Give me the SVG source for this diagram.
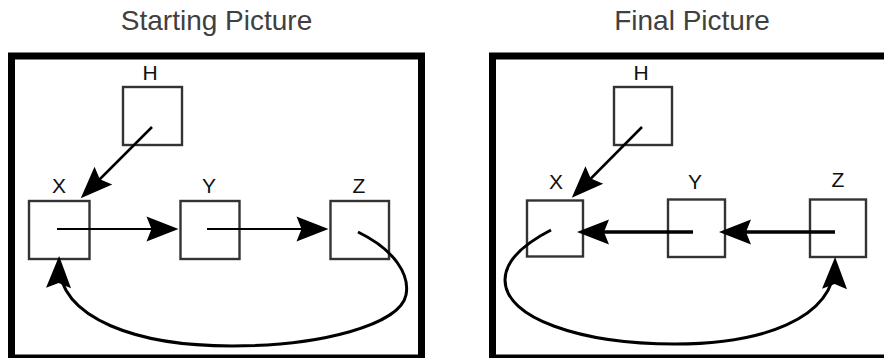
<svg xmlns="http://www.w3.org/2000/svg" width="884" height="358" viewBox="0 0 884 358">
  <style>
    .title { font-family: "Liberation Sans", Arial, sans-serif; font-size: 28px; fill: #404040; text-anchor: middle; }
    .label { font-family: "Liberation Sans", Arial, sans-serif; font-size: 21px; fill: #111; text-anchor: middle; }
    .frame { fill: none; stroke: #000; stroke-width: 7; }
    .box { fill: #fff; stroke: #333; stroke-width: 2.4; }
    .link { fill: none; stroke: #000; marker-end: url(#head); }
  </style>
  <defs>
    <marker id="head" markerUnits="userSpaceOnUse" markerWidth="40" markerHeight="30" refX="0" refY="0" orient="auto" overflow="visible">
      <path d="M6,0 L-26,-12.5 L-21,0 L-26,12.5 Z" fill="#000"/>
    </marker>
  </defs>
  <rect width="884" height="358" fill="#fff"/>

  <!-- Left panel: starting state -->
  <g id="start-panel">
    <text class="title" x="216.5" y="30">Starting Picture</text>
    <rect class="frame" x="11.5" y="56" width="410" height="302"/>
  </g>
  <g id="start-H">
    <rect class="box" x="123" y="87" width="59" height="58"/>
    <text class="label" x="150" y="80">H</text>
  </g>
  <g id="start-X">
    <rect class="box" x="29" y="201" width="60.5" height="58"/>
    <text class="label" x="59" y="193">X</text>
  </g>
  <g id="start-Y">
    <rect class="box" x="180.5" y="201" width="59" height="58"/>
    <text class="label" x="209" y="193">Y</text>
  </g>
  <g id="start-Z">
    <rect class="box" x="330.5" y="201" width="58.5" height="58"/>
    <text class="label" x="359" y="193">Z</text>
  </g>
  <g id="start-links">
    <path class="link" stroke-width="2.5" d="M152,127 L85,194"/>
    <path class="link" stroke-width="2" d="M57,229 L172.5,229"/>
    <path class="link" stroke-width="2" d="M207,229 L322.5,229"/>
    <path class="link" stroke-width="3" d="M358,232 C395,250 410,275 406,295 C400,325 320,346 232,346 C140,346 58,320 59,262"/>
  </g>

  <!-- Right panel: final state -->
  <g id="final-panel">
    <text class="title" x="692" y="30">Final Picture</text>
    <rect class="frame" x="492.5" y="56" width="400" height="302"/>
  </g>
  <g id="final-H">
    <rect class="box" x="614" y="87" width="58" height="58"/>
    <text class="label" x="641" y="80">H</text>
  </g>
  <g id="final-X">
    <rect class="box" x="527" y="200.5" width="56" height="56"/>
    <text class="label" x="556" y="189">X</text>
  </g>
  <g id="final-Y">
    <rect class="box" x="668" y="199.5" width="57" height="57.5"/>
    <text class="label" x="695" y="189">Y</text>
  </g>
  <g id="final-Z">
    <rect class="box" x="810" y="199.5" width="56" height="57.5"/>
    <text class="label" x="838" y="187">Z</text>
  </g>
  <g id="final-links">
    <path class="link" stroke-width="2.5" d="M642,127 L576,193.5"/>
    <path class="link" stroke-width="3.5" d="M693,232 L583,232"/>
    <path class="link" stroke-width="3.5" d="M835,232 L725,232"/>
    <path class="link" stroke-width="3" d="M551,230 C520,246 505,262 505,280 C505,318 580,344 675,344 C760,344 834,320 835,263"/>
  </g>
</svg>
